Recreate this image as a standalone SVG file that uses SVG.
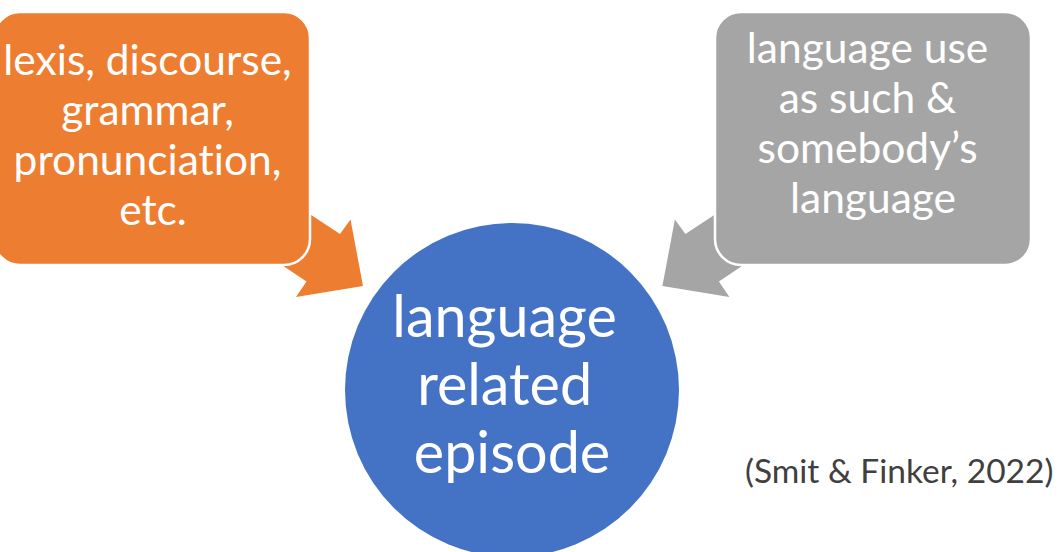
<svg xmlns="http://www.w3.org/2000/svg" width="1060" height="552" viewBox="0 0 1060 552">
  <style>
    text { font-variant-ligatures: none; }
    .lbl { font-family: Lato, "Open Sans", "Liberation Sans", sans-serif; font-weight: 400; fill: #ffffff; text-anchor: middle; }
    .box { font-size: 42.5px; }
    .core { font-size: 57.5px; }
    .cite { font-family: Lato, "Open Sans", "Liberation Sans", sans-serif; font-weight: 400; font-size: 33.5px; fill: #404040; }
    .frame { stroke: #ffffff; stroke-width: 2.5; }
  </style>

  <!-- block arrows pointing into the centre circle -->
  <g id="connectors">
    <polygon points="255,178 340,234 350.5,219.5 363,286 296,297 306.5,281.5 240,237" fill="#ED7D31"/>
    <polygon points="770.4,178 685.4,234 674.9,219.5 662.4,286 729.4,297 718.9,281.5 785.4,237" fill="#A5A5A5"/>
  </g>

  <g id="node-forms">
    <rect class="frame" x="-6" y="12" width="316" height="253" rx="26" fill="#ED7D31"/>
    <text class="lbl box">
      <tspan x="153" y="75">lexis, discourse,</tspan>
      <tspan x="153" y="125">grammar,</tspan>
      <tspan x="153" y="175">pronunciation,</tspan>
      <tspan x="153" y="225">etc.</tspan>
    </text>
  </g>

  <g id="node-use">
    <rect class="frame" x="715" y="12" width="316" height="253" rx="26" fill="#A5A5A5"/>
    <text class="lbl box">
      <tspan x="873" y="63">language use</tspan>
      <tspan x="873" y="113">as such &amp;</tspan>
      <tspan x="873" y="163">somebody’s</tspan>
      <tspan x="873" y="213">language</tspan>
    </text>
  </g>

  <g id="node-lre">
    <circle cx="512" cy="390" r="167" fill="#4472C4"/>
    <text class="lbl core">
      <tspan x="512" y="337">language</tspan>
      <tspan x="512" y="405">related</tspan>
      <tspan x="512" y="473">episode</tspan>
    </text>
  </g>

  <g id="citation">
    <text class="cite" x="745" y="483">(Smit &amp; Finker, 2022)</text>
  </g>
</svg>
